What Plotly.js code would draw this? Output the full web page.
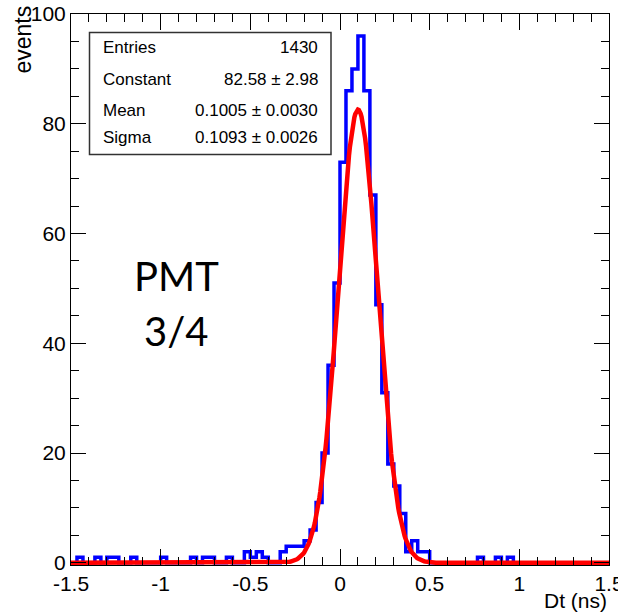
<!DOCTYPE html>
<html>
<head>
<meta charset="utf-8">
<script src="https://cdn.plot.ly/plotly-3.0.1.min.js"></script>
<style>html,body{margin:0;padding:0;background:#fff;}#chart{width:618px;height:613px;}</style>
</head>
<body>
<div id="chart"></div>
<script>
// Histogram binning (as in the ROOT histogram): 90 bins from -1.5 to 1.5 ns
const X_MIN = -1.5;
const X_MAX = 1.5;
const N_BINS = 90;

// Counts per bin (bin 0 = [-1.5, -1.4667))
const binCounts = [
  0, 1, 0, 0, 1, 0, 1, 1, 0, 0,
  1, 0, 0, 0, 0, 1, 0, 0, 0, 0,
  1, 0, 1, 1, 0, 0, 1, 0, 0, 2,
  1, 2, 1, 0, 0, 2, 3, 3, 3, 4,
  6, 11, 20, 36, 51, 73, 86, 90, 96, 86,
  67, 47, 31, 18, 14, 9, 2, 4, 2, 2,
  0, 0, 0, 0, 0, 0, 0, 0, 1, 0,
  0, 1, 0, 1, 0, 0, 0, 0, 0, 0,
  0, 0, 0, 0, 0, 0, 0, 0, 0, 0
];

// Gaussian fit parameters shown in the stats box
const fitConstant = 82.58;
const fitMean = 0.1005;
const fitSigma = 0.1093;

// Stats box rows
const statLabels = ["Entries", "Constant", "Mean", "Sigma"];
const statValues = ["1430", "82.58 \u00b1 2.98", "0.1005 \u00b1 0.0030", "0.1093 \u00b1 0.0026"];

// Axis ticks
const xTickVals = [-1.5, -1, -0.5, 0, 0.5, 1, 1.5];
const xTickText = ["-1.5", "-1", "-0.5", "0", "0.5", "1", "1.5"];

// ---- build traces ----
const binWidth = (X_MAX - X_MIN) / N_BINS;
const histX = [], histY = [];
for (let i = 0; i <= N_BINS; i++) {
  histX.push(X_MIN + i * binWidth);
  histY.push(binCounts[Math.min(i, N_BINS - 1)]);
}

const fitX = [], fitY = [];
for (let i = 0; i <= 600; i++) {
  const x = X_MIN + i * (X_MAX - X_MIN) / 600;
  fitX.push(x);
  fitY.push(fitConstant * Math.exp(-0.5 * Math.pow((x - fitMean) / fitSigma, 2)));
}

const traces = [
  {x: histX, y: histY, type: 'scatter', mode: 'lines',
   line: {shape: 'hv', color: 'rgb(0,0,255)', width: 3.5}, hoverinfo: 'skip'},
  {x: fitX, y: fitY, type: 'scatter', mode: 'lines',
   line: {color: 'rgb(255,0,0)', width: 4.5}, hoverinfo: 'skip'}
];

// pixel -> paper helpers (plot area: x 71..609, y 14..565)
const L = 71, R = 9, T = 14, B = 48, W = 618, H = 613;
const pw = W - L - R, ph = H - T - B;
const px = v => (v - L) / pw;
const py = v => (H - B - v) / ph;

const font = 'Liberation Sans, Arial, Helvetica, sans-serif';
const annotations = [];
const rowY = [48, 79.5, 110, 138];
statLabels.forEach((s, i) => {
  annotations.push({xref: 'paper', yref: 'paper', x: px(100.5), y: py(rowY[i]), text: s,
    showarrow: false, xanchor: 'left', yanchor: 'middle', font: {family: font, size: 17, color: 'black'}});
  annotations.push({xref: 'paper', yref: 'paper', x: px(320), y: py(rowY[i]), text: statValues[i],
    showarrow: false, xanchor: 'right', yanchor: 'middle', font: {family: font, size: 17, color: 'black'}});
});
annotations.push({xref: 'paper', yref: 'paper', x: px(23), y: py(39.5), text: 'events', textangle: -90,
  showarrow: false, xanchor: 'center', yanchor: 'middle', font: {family: font, size: 23, color: 'black'}});
annotations.push({xref: 'paper', yref: 'paper', x: px(609), y: py(600), text: 'Dt (ns)',
  showarrow: false, xanchor: 'right', yanchor: 'middle', font: {family: font, size: 21, color: 'black'}});
annotations.push({xref: 'paper', yref: 'paper', x: px(176), y: py(276), text: 'PMT',
  showarrow: false, xanchor: 'center', yanchor: 'middle', font: {family: 'Lato, Open Sans, sans-serif', size: 40, color: 'black'}});
annotations.push({xref: 'paper', yref: 'paper', x: px(176), y: py(331), text: '3/4',
  showarrow: false, xanchor: 'center', yanchor: 'middle', font: {family: 'Lato, Open Sans, sans-serif', size: 40, color: 'black'}});

const layout = {
  width: W, height: H,
  margin: {l: L, r: R, t: T, b: B, pad: 0},
  paper_bgcolor: 'white', plot_bgcolor: 'white',
  showlegend: false,
  xaxis: {
    range: [X_MIN, X_MAX], showgrid: false, zeroline: false,
    showline: true, linecolor: 'black', linewidth: 1, mirror: 'allticks',
    ticks: 'inside', ticklen: 16, tickwidth: 1, tickcolor: 'black',
    tickmode: 'array', tickvals: xTickVals, ticktext: xTickText,
    ticklabeloverflow: 'allow',
    tickfont: {family: font, size: 21, color: 'black'},
    minor: {tickmode: 'linear', tick0: X_MIN, dtick: 0.1, ticks: 'inside', ticklen: 8, tickcolor: 'black', tickwidth: 1}
  },
  yaxis: {
    range: [-0.4, 100], showgrid: false, zeroline: false,
    showline: true, linecolor: 'black', linewidth: 1, mirror: 'allticks',
    ticks: 'inside', ticklen: 15, tickwidth: 1, tickcolor: 'black',
    tickmode: 'linear', tick0: 0, dtick: 20,
    ticklabeloverflow: 'allow',
    tickfont: {family: font, size: 21, color: 'black'},
    minor: {tickmode: 'linear', tick0: 0, dtick: 5, ticks: 'inside', ticklen: 8, tickcolor: 'black', tickwidth: 1}
  },
  shapes: [{type: 'rect', xref: 'paper', yref: 'paper', x0: px(89.5), x1: px(331), y0: py(154.5), y1: py(32.5),
    line: {color: 'rgb(50,50,50)', width: 1.5}, fillcolor: 'white', layer: 'above'}],
  annotations: annotations
};

Plotly.newPlot('chart', traces, layout, {staticPlot: true, displayModeBar: false});
</script>
</body>
</html>
